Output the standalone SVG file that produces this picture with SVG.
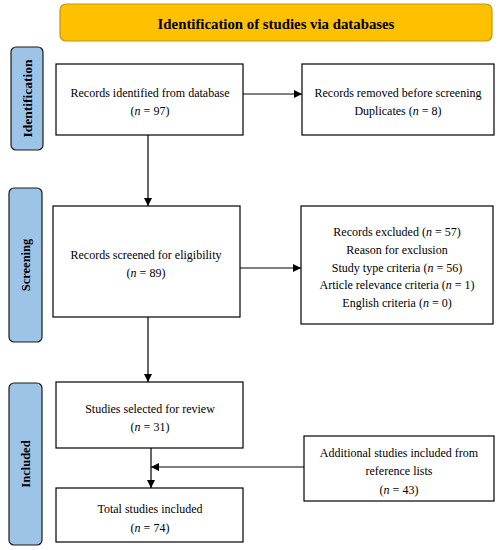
<svg xmlns="http://www.w3.org/2000/svg" width="502" height="550" viewBox="0 0 502 550">
<style>
.box{fill:#fff;stroke:#000;stroke-width:1.2}
.side{fill:#9DC3E6;stroke:#1a1a1a;stroke-width:1.2}
.t{font-family:"Liberation Serif","DejaVu Serif",serif;font-size:12px;fill:#000;text-anchor:middle}
.s{font-family:"Liberation Serif","DejaVu Serif",serif;font-size:12.5px;font-weight:bold;fill:#000;text-anchor:middle}
.ln{stroke:#000;stroke-width:1.2;fill:none}
</style>
<defs>
<marker id="ah" viewBox="0 0 10 10" refX="10" refY="5" markerWidth="8" markerHeight="8" markerUnits="userSpaceOnUse" orient="auto">
<path d="M0,0L10,5L0,10z" fill="#000"/>
</marker>
</defs>
<rect width="502" height="550" fill="#fff"/>
<g id="title">
<rect x="60" y="4" width="432" height="37" rx="6" fill="#FFC000" stroke="#C8960A" stroke-width="1.2"/>
<text x="276" y="28.5" class="s" style="font-size:14.8px">Identification of studies via databases</text>
</g>
<g id="side-identification">
<rect class="side" x="11" y="47" width="32" height="103" rx="5"/>
<text class="s" style="font-size:13.5px" transform="translate(31.5,98.5) rotate(-90)">Identification</text>
</g>
<g id="side-screening">
<rect class="side" x="9" y="188" width="33" height="154" rx="5"/>
<text class="s" transform="translate(30,265) rotate(-90)">Screening</text>
</g>
<g id="side-included">
<rect class="side" x="9" y="383" width="33" height="162" rx="5"/>
<text class="s" transform="translate(30,464) rotate(-90)">Included</text>
</g>
<g id="n1">
<rect class="box" x="56" y="64" width="187" height="71"/>
<text class="t" x="150" y="97">Records identified from database</text>
<text class="t" x="150" y="115">(<tspan font-style="italic">n</tspan> = 97)</text>
</g>
<g id="n2">
<rect class="box" x="302" y="64" width="192" height="71"/>
<text class="t" x="398" y="97">Records removed before screening</text>
<text class="t" x="398" y="115">Duplicates (<tspan font-style="italic">n</tspan> = 8)</text>
</g>
<g id="n3">
<rect class="box" x="53" y="206" width="187" height="111"/>
<text class="t" x="146" y="259">Records screened for eligibility</text>
<text class="t" x="146" y="277">(<tspan font-style="italic">n</tspan> = 89)</text>
</g>
<g id="n4">
<rect class="box" x="301" y="206" width="192" height="118"/>
<text class="t" x="397" y="236">Records excluded (<tspan font-style="italic">n</tspan> = 57)</text>
<text class="t" x="397" y="254">Reason for exclusion</text>
<text class="t" x="397" y="272">Study type criteria (<tspan font-style="italic">n</tspan> = 56)</text>
<text class="t" x="397" y="289">Article relevance criteria (<tspan font-style="italic">n</tspan> = 1)</text>
<text class="t" x="397" y="307">English criteria (<tspan font-style="italic">n</tspan> = 0)</text>
</g>
<g id="n5">
<rect class="box" x="56" y="382" width="187" height="66"/>
<text class="t" x="150" y="413">Studies selected for review</text>
<text class="t" x="150" y="431">(<tspan font-style="italic">n</tspan> = 31)</text>
</g>
<g id="n6">
<rect class="box" x="304" y="436" width="190" height="65"/>
<text class="t" x="399" y="457">Additional studies included from</text>
<text class="t" x="399" y="475">reference lists</text>
<text class="t" x="399" y="494">(<tspan font-style="italic">n</tspan> = 43)</text>
</g>
<g id="n7">
<rect class="box" x="56" y="488" width="187" height="54"/>
<text class="t" x="150" y="513">Total studies included</text>
<text class="t" x="150" y="532">(<tspan font-style="italic">n</tspan> = 74)</text>
</g>
<g id="connectors">
<line class="ln" x1="243" y1="94" x2="302" y2="94" marker-end="url(#ah)"/>
<line class="ln" x1="148" y1="135" x2="148" y2="206" marker-end="url(#ah)"/>
<line class="ln" x1="240" y1="268" x2="301" y2="268" marker-end="url(#ah)"/>
<line class="ln" x1="148" y1="317" x2="148" y2="382" marker-end="url(#ah)"/>
<line class="ln" x1="151" y1="448" x2="151" y2="488" marker-end="url(#ah)"/>
<line class="ln" x1="304" y1="467" x2="151" y2="467" marker-end="url(#ah)"/>
</g>
</svg>
